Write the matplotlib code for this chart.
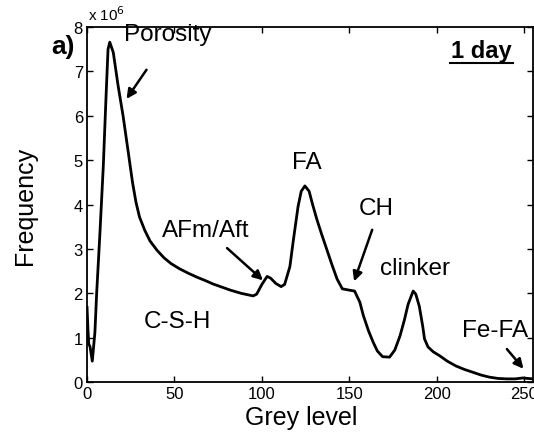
import matplotlib
matplotlib.use("Agg")
from matplotlib import pyplot as plt

plt.rcParams['font.family'] = ['Liberation Sans', 'DejaVu Sans']

# grey level histogram, 1 day (frequency in units of 1e6)
grey_level = [0, 0.5, 1, 1.7, 3, 4.5, 5.5, 7.4, 9.3, 10.8, 12, 13, 15, 17.8,
              20.6, 23.5, 26, 28, 30, 33, 36, 40, 44, 48, 53, 58, 63, 68, 72,
              77, 82, 88, 95, 97, 100, 103, 105, 108, 111, 113, 116, 118,
              120.7, 122.5, 124.6, 127, 129, 131.4, 134, 137, 140, 143, 146,
              150, 153, 156, 158, 161, 163.6, 166, 169, 173, 176, 179, 181.5,
              183.6, 186.5, 188, 190, 192, 193, 195, 198, 201.7, 206, 211, 216,
              220.6, 225, 230, 235, 240, 245, 249, 252, 255]
frequency = [1.68, 1.2, 0.85, 0.8, 0.47, 1.12, 2.0, 3.38, 4.87, 6.37, 7.5, 7.66,
             7.43, 6.67, 6.0, 5.2, 4.5, 4.05, 3.72, 3.42, 3.18, 2.97, 2.8, 2.67,
             2.55, 2.45, 2.36, 2.28, 2.21, 2.14, 2.07, 2.0, 1.94, 1.98, 2.2,
             2.38, 2.34, 2.22, 2.15, 2.2, 2.6, 3.2, 3.96, 4.3, 4.42, 4.3, 4.0,
             3.67, 3.35, 3.0, 2.65, 2.32, 2.1, 2.07, 2.05, 1.8, 1.5, 1.15, 0.9,
             0.7, 0.57, 0.56, 0.72, 1.04, 1.4, 1.75, 2.05, 1.98, 1.71, 1.25,
             0.97, 0.79, 0.68, 0.59, 0.47, 0.36, 0.28, 0.22, 0.16, 0.11, 0.08,
             0.07, 0.07, 0.09, 0.08, 0.07]

xticks = [0, 50, 100, 150, 200, 250]
yticks = [0, 1, 2, 3, 4, 5, 6, 7, 8]

# label text, label position, arrow tail, arrow head
phases = [
    ("Porosity", (46.3, 7.84), (34.9, 7.09), (21.7, 6.33)),
    ("AFm/Aft", (68.1, 3.42), (78.9, 3.06), (101.8, 2.25)),
    ("FA", (125.9, 4.95), None, None),
    ("CH", (165.3, 3.92), (163.6, 3.49), (152.2, 2.21)),
    ("clinker", (187.6, 2.57), None, None),
    ("Fe-FA", (233.4, 1.17), (239.1, 0.79), (250.6, 0.25)),
    ("C-S-H", (51.5, 1.37), None, None),
]

fig = plt.figure(figsize=(5.34, 4.39), dpi=100)
ax = fig.add_axes([0.163, 0.1276, 0.835, 0.8084])

ax.plot(grey_level, frequency, color='black', linewidth=2.0)

ax.set_xlim(0, 255)
ax.set_ylim(0, 8)
ax.set_xticks(xticks)
ax.set_yticks(yticks)
ax.tick_params(direction='in', length=4, width=1, labelsize=12,
               top=True, right=True, pad=3)
for s in ax.spines.values():
    s.set_linewidth(1.3)

ax.set_xlabel("Grey level", fontsize=18, labelpad=3)
ax.xaxis.label.set_x(0.48)
ax.set_ylabel("Frequency", fontsize=18, labelpad=26)

for name, pos, tail, head in phases:
    ax.text(pos[0], pos[1], name, fontsize=17.5, ha='center', va='center')
    if tail is not None:
        ax.annotate("", xy=head, xytext=tail,
                    arrowprops=dict(arrowstyle='-|>', color='black', lw=1.8,
                                    mutation_scale=14))

ax.text(225.4, 7.48, "1 day", fontsize=17, fontweight='bold',
        ha='center', va='center')
ax.plot([207.7, 243.7], [7.19, 7.19], color='black', linewidth=1.5)

ax.text(0.002, 1.012, "x 10$^{6}$", transform=ax.transAxes, fontsize=11,
        ha='left', va='bottom')
fig.text(63 / 534, 1 - 47 / 439, "a)", fontsize=19, fontweight='bold',
         ha='center', va='center')

fig.savefig("out.png", dpi=100)
